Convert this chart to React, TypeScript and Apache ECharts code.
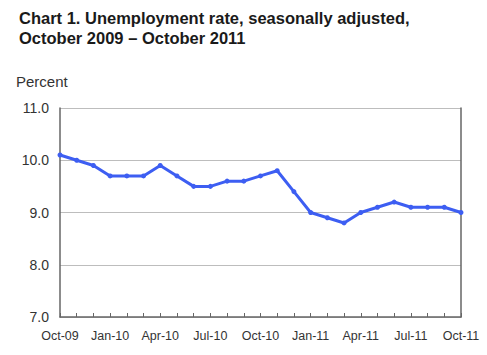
import React, { useEffect, useRef } from "react";
import * as echarts from "echarts";

const categories = [
  "Oct-09", "Nov-09", "Dec-09", "Jan-10", "Feb-10", "Mar-10", "Apr-10", "May-10", "Jun-10",
  "Jul-10", "Aug-10", "Sep-10", "Oct-10", "Nov-10", "Dec-10", "Jan-11", "Feb-11", "Mar-11",
  "Apr-11", "May-11", "Jun-11", "Jul-11", "Aug-11", "Sep-11", "Oct-11",
];
const unemploymentRate = [
  10.1, 10.0, 9.9, 9.7, 9.7, 9.7, 9.9, 9.7, 9.5, 9.5, 9.6, 9.6, 9.7, 9.8, 9.4,
  9.0, 8.9, 8.8, 9.0, 9.1, 9.2, 9.1, 9.1, 9.1, 9.0,
];
const titleLines = [
  "Chart 1. Unemployment rate, seasonally adjusted,",
  "October 2009 \u2013 October 2011",
];
const yAxisName = "Percent";

export default function App() {
  const ref = useRef<HTMLDivElement>(null);
  useEffect(() => {
    if (!ref.current) return;
    const chart = echarts.init(ref.current, null, { renderer: "svg" });
    const font = "Liberation Sans, Arial, sans-serif";
    chart.setOption({
      animation: false,
      backgroundColor: "#ffffff",
      title: {
        text: titleLines.join("\n"),
        left: 14,
        top: 3,
        textStyle: {
          fontFamily: font,
          fontSize: 16.5,
          fontWeight: "bold",
          color: "#1a1a1a",
          lineHeight: 20,
        },
      },
      graphic: [
        {
          type: "text",
          left: 16,
          top: 74,
          style: { text: yAxisName, font: `15px ${font}`, fill: "#333" },
        },
      ],
      grid: { left: 60, right: 26, top: 108, bottom: 38 },
      xAxis: {
        type: "category",
        data: categories,
        boundaryGap: false,
        axisLine: { lineStyle: { color: "#666", width: 1.5 } },
        axisTick: { inside: true, length: 4, interval: 0, lineStyle: { color: "#666" } },
        axisLabel: {
          interval: 2,
          fontFamily: font,
          fontSize: 12.5,
          color: "#333",
          margin: 12,
        },
      },
      yAxis: [
        {
          type: "value",
          min: 7,
          max: 11,
          interval: 1,
          axisLine: { show: true, lineStyle: { color: "#666", width: 1.5 } },
          axisTick: { show: false },
          splitLine: { lineStyle: { color: "#bdbdbd", width: 1.2 } },
          axisLabel: {
            formatter: (v: number) => v.toFixed(1),
            fontFamily: font,
            fontSize: 14,
            color: "#333",
            margin: 11,
          },
        },
        {
          type: "value",
          position: "right",
          min: 7,
          max: 11,
          interval: 1,
          axisLine: { show: true, lineStyle: { color: "#666", width: 1.5 } },
          axisTick: { show: false },
          axisLabel: { show: false },
          splitLine: { show: false },
        },
      ],
      series: [
        {
          type: "line",
          data: unemploymentRate,
          yAxisIndex: 0,
          symbol: "circle",
          symbolSize: 5,
          lineStyle: { color: "#3d5ef2", width: 3 },
          itemStyle: { color: "#3d5ef2" },
        },
      ],
    });
    return () => chart.dispose();
  }, []);
  return (
    <div
      ref={ref}
      style={{ position: "fixed", left: 0, top: 0, width: 487, height: 355 }}
    />
  );
}
